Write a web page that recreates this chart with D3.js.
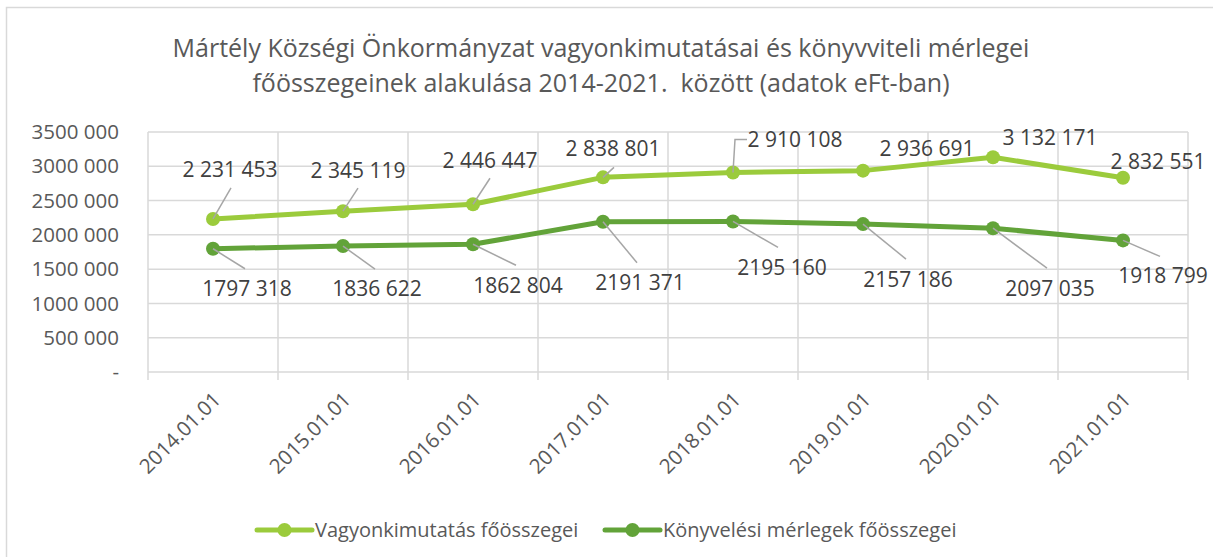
<!DOCTYPE html>
<html>
<head>
<meta charset="utf-8">
<script src="https://cdn.jsdelivr.net/npm/d3@7"></script>
<style>
    body { margin: 0; background: #fff; }
    svg { font-family: "Open Sans", sans-serif; }
</style>
</head>
<body>
<svg width="1213" height="557"></svg>
<script>
const categories = ["2014.01.01", "2015.01.01", "2016.01.01", "2017.01.01",
    "2018.01.01", "2019.01.01", "2020.01.01", "2021.01.01"];
const vagyon = [2231453, 2345119, 2446447, 2838801, 2910108, 2936691, 3132171, 2832551];
const merleg = [1797318, 1836622, 1862804, 2191371, 2195160, 2157186, 2097035, 1918799];
const yTicks = [0, 500000, 1000000, 1500000, 2000000, 2500000, 3000000, 3500000];
const titleLines = [
    "Mártély Községi Önkormányzat vagyonkimutatásai és könyvviteli mérlegei",
    "főösszegeinek alakulása 2014-2021.  között (adatok eFt-ban)"
];
const seriesNames = ["Vagyonkimutatás főösszegei", "Könyvelési mérlegek főösszegei"];

// label placement (label centre and leader end, px from the point)
const labelPos1 = [[17, -49, 18, -31], [15, -41, 15, -23], [17, -44, 17, -26], [10, -29, 11, -10],
    [62, -33, null, null], [64, -22, null, null], [57, -20, null, null], [35, -16, null, null]];
const labelPos2 = [[34, 40, 32, 20], [34, 43, 32, 23], [45, 41, 43, 21], [37, 61, 34, 41],
    [49, 46, 45, 26], [45, 56, 43, 35], [57, 60, 54, 40], [40, 35, 37, 16]];

const svg = d3.select("svg");
const area = { left: 148, right: 1188, top: 132, bottom: 372 };
const gridColor = "#d9d9d9";
const textColor = "#595959";
const colors = ["#9bcb3c", "#62a339"];

// chart border
svg.append("rect")
    .attr("x", 6.5).attr("y", 7.5)
    .attr("width", 1240).attr("height", 600)
    .attr("fill", "none")
    .attr("stroke", gridColor)
    .attr("stroke-width", 1.5);

// title
svg.append("g").selectAll("text")
    .data(titleLines)
    .enter()
    .append("text")
    .attr("x", 601)
    .attr("y", (d, i) => 57 + i * 35)
    .attr("text-anchor", "middle")
    .attr("font-size", 25)
    .attr("fill", textColor)
    .style("white-space", "pre")
    .text(d => d);

const scX = d3.scaleBand()
    .domain(categories)
    .range([area.left, area.right])
    .padding(0);

const scY = d3.scaleLinear()
    .domain([0, 3500000])
    .range([area.bottom, area.top]);

function fmtShort(v) {
    if (v === 0) return "-";
    const th = Math.floor(v / 1000);
    return th + " " + String(v % 1000).padStart(3, "0");
}

function fmtFull(v) {
    return d3.format(",")(v).replace(/,/g, " ");
}

// horizontal gridlines
svg.append("g").selectAll("line")
    .data(yTicks)
    .enter()
    .append("line")
    .attr("x1", area.left).attr("x2", area.right)
    .attr("y1", d => scY(d)).attr("y2", d => scY(d))
    .attr("stroke", gridColor)
    .attr("stroke-width", 1.5);

// vertical gridlines at category boundaries, running down as ticks
const bounds = categories.map(c => scX(c)).concat([area.right]);
svg.append("g").selectAll("line")
    .data(bounds)
    .enter()
    .append("line")
    .attr("x1", d => d).attr("x2", d => d)
    .attr("y1", area.top).attr("y2", area.bottom + 8)
    .attr("stroke", gridColor)
    .attr("stroke-width", 1.5);

// y tick labels
svg.append("g").selectAll("text")
    .data(yTicks)
    .enter()
    .append("text")
    .attr("x", 119)
    .attr("y", d => scY(d))
    .attr("dy", "0.35em")
    .attr("text-anchor", "end")
    .attr("font-size", 20.5)
    .attr("fill", textColor)
    .text(d => fmtShort(d));

// x tick labels
svg.append("g").selectAll("text")
    .data(categories)
    .enter()
    .append("text")
    .attr("transform", d => `translate(${scX(d) + scX.bandwidth() / 2 + 9}, ${area.bottom + 29}) rotate(-45)`)
    .attr("text-anchor", "end")
    .attr("font-size", 20.5)
    .attr("fill", textColor)
    .text(d => d);

const cx = i => scX(categories[i]) + scX.bandwidth() / 2;

function drawSeries(values, color, labelPos, fmt) {
    const line = d3.line()
        .x((d, i) => cx(i))
        .y(d => scY(d));

    svg.append("path")
        .datum(values)
        .attr("fill", "none")
        .attr("stroke", color)
        .attr("stroke-width", 5)
        .attr("stroke-linejoin", "round")
        .attr("d", line);

    svg.append("g").selectAll("circle")
        .data(values)
        .enter()
        .append("circle")
        .attr("cx", (d, i) => cx(i))
        .attr("cy", d => scY(d))
        .attr("r", 7)
        .attr("fill", color);

    // leader lines
    svg.append("g").selectAll("path")
        .data(values)
        .enter()
        .filter((d, i) => labelPos[i][2] !== null)
        .append("path")
        .attr("d", d => {
            const i = values.indexOf(d);
            const x0 = cx(i), y0 = scY(d);
            const p = labelPos[i];
            return `M${x0},${y0}L${x0 + p[2]},${y0 + p[3]}`;
        })
        .attr("stroke", "#a6a6a6")
        .attr("stroke-width", 1.5)
        .attr("fill", "none");

    svg.append("g").selectAll("text")
        .data(values)
        .enter()
        .append("text")
        .attr("x", (d, i) => cx(i) + labelPos[i][0])
        .attr("y", (d, i) => scY(d) + labelPos[i][1])
        .attr("dy", "0.35em")
        .attr("text-anchor", "middle")
        .attr("font-size", 21)
        .attr("fill", "#404040")
        .text(d => fmt(d));
}

drawSeries(merleg, colors[1], labelPos2, fmtShort);
drawSeries(vagyon, colors[0], labelPos1, fmtFull);

// elbow leader for the 2018 label of the first series
{
    const x0 = cx(4), y0 = scY(vagyon[4]);
    svg.append("path")
        .attr("d", `M${x0},${y0}L${x0 + 2},${y0 - 33}L${x0 + 14},${y0 - 33}`)
        .attr("stroke", "#a6a6a6")
        .attr("stroke-width", 1.5)
        .attr("fill", "none");
}

// legend
const legend = svg.append("g").attr("transform", "translate(0, 530)");
const legendX = [257, 605];
seriesNames.forEach((name, i) => {
    const g = legend.append("g").attr("transform", `translate(${legendX[i]}, 0)`);
    g.append("line")
        .attr("x1", 0).attr("x2", 55)
        .attr("stroke", colors[i])
        .attr("stroke-width", 5)
        .attr("stroke-linecap", "round");
    g.append("circle")
        .attr("cx", 27.5).attr("r", 7)
        .attr("fill", colors[i]);
    g.append("text")
        .attr("x", 58)
        .attr("dy", "0.35em")
        .attr("font-size", 20)
        .attr("fill", textColor)
        .text(name);
});
</script>
</body>
</html>
